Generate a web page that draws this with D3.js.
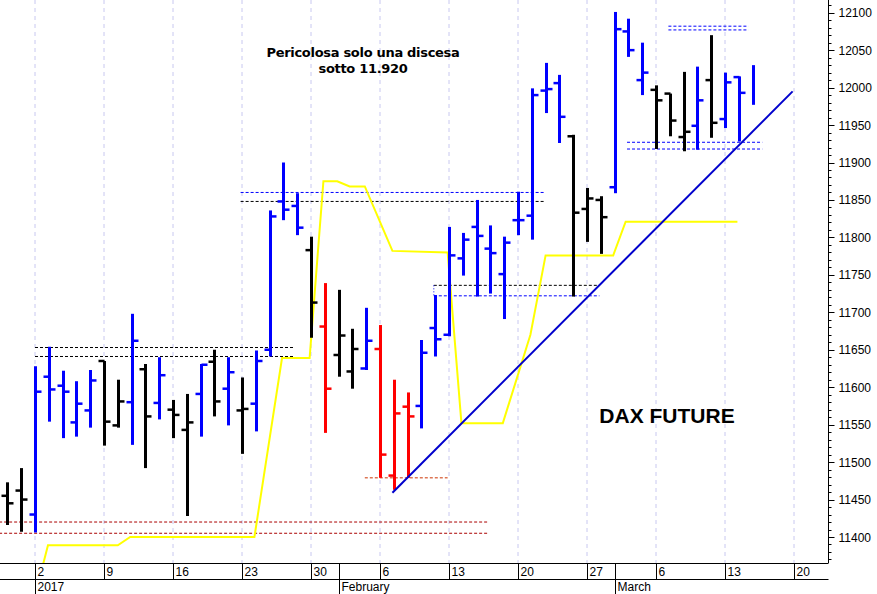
<!DOCTYPE html>
<html><head><meta charset="utf-8">
<script src="https://cdn.jsdelivr.net/npm/d3@7"></script>
<style>body{margin:0;background:#fff}svg{display:block}</style>
</head><body><svg id="c" width="877" height="594"></svg>
<script>
// Trading days (weekdays) starting Dec 28, 2016
const startDate = "2016-12-28", endDate = "2017-03-20";
const holidays = ["2016-12-30"];
// OHLC bars: [open, high, low, close, color]
const bars = [
 [11455,11473,11416,11445,"k"],
 [11462,11492,11407,11450,"k"],
 [11430,11628,11406,11594,"b"],
 [11614,11654,11554,11597,"b"],
 [11602,11622,11532,11594,"b"],
 [11553,11608,11534,11578,"b"],
 [11569,11623,11546,11609,"b"],
 [11635,11635,11522,11554,"k"],
 [11549,11610,11546,11581,"k"],
 [11580,11698,11523,11662,"b"],
 [11624,11631,11492,11561,"k"],
 [11579,11640,11557,11616,"b"],
 [11570,11583,11532,11563,"k"],
 [11543,11591,11428,11553,"k"],
 [11591,11631,11534,11630,"b"],
 [11634,11650,11561,11581,"k"],
 [11598,11640,11549,11620,"b"],
 [11569,11613,11511,11571,"k"],
 [11578,11649,11541,11635,"b"],
 [11650,11836,11641,11828,"b"],
 [11848,11900,11823,11837,"b"],
 [11842,11859,11803,11813,"b"],
 [11783,11801,11666,11713,"k"],
 [11681,11739,11539,11598,"r"],
 [11643,11730,11614,11669,"k"],
 [11621,11678,11598,11651,"k"],
 [11625,11706,11623,11662,"b"],
 [11651,11683,11479,11510,"r"],
 [11482,11610,11463,11565,"r"],
 [11574,11593,11479,11561,"r"],
 [11575,11663,11545,11646,"b"],
 [11679,11723,11641,11664,"b"],
 [11670,11814,11668,11776,"b"],
 [11772,11806,11749,11797,"b"],
 [11814,11850,11721,11802,"b"],
 [11785,11816,11725,11779,"b"],
 [11751,11801,11691,11793,"b"],
 [11823,11861,11803,11823,"b"],
 [11829,11999,11797,11990,"b"],
 [11996,12033,11966,11998,"b"],
 [12006,12017,11926,11961,"b"],
 [11935,11937,11721,11833,"k"],
 [11838,11866,11794,11852,"k"],
 [11850,11855,11778,11827,"k"],
 [11867,12101,11859,12078,"b"],
 [12075,12092,12041,12050,"b"],
 [12010,12060,11990,12020,"b"],
 [11997,12003,11918,11983,"k"],
 [11992,11992,11935,11956,"k"],
 [11934,12021,11915,11941,"k"],
 [11949,12028,11917,11983,"b"],
 [12010,12070,11933,11953,"k"],
 [11958,12020,11946,12007,"b"],
 [12014,12015,11928,11993,"b"],
 [null,12030,11977,null,"b"]
];
// yellow line: [trading-day index (0 = Jan 2), price]
const yellowIdx = [0.4,0.94,6.0,6.9,15.9,17.9,19.9,20.9,21.9,22.8,23.9,25.9,29.9,30.9,33.9,35.9,37.0,41.9,42.8,50.9];
const yellowVal = [11350,11389,11389,11400,11400,11639,11639,11875,11875,11868,11868,11782,11780,11552,11552,11670,11776,11776,11821,11821];
// trend line
const trendIdx = [25.9,54.9], trendVal = [11459,11995];
// dashed levels: [fromIdx, toIdx, price, color]
const levels = [
 [0,18.8,11653,"#000"],[0,18.8,11641,"#000"],
 [-2.6,32.8,11420,"#a00"],[-2.6,32.8,11405,"#a00"],
 [14.9,37,11860,"#00f"],[14.9,37,11848,"#000"],
 [23.9,29.9,11479,"#c30"],
 [28.9,40.9,11736,"#000"],[28.9,40.9,11722,"#00f"],
 [45.9,51.7,12082,"#00f"],[45.9,51.7,12077,"#00f"],
 [42.9,52.7,11927,"#00f"],[42.9,52.7,11918,"#00f"]
];
const priceTicks = d3.range(11400,12101,50);

const svg = d3.select("#c");
const W=828, H=563;
const x = d3.scaleLinear().domain([-35/13.8,(828-35)/13.8]).range([0,W]);
const y = d3.scaleLinear().domain([11400,12100]).range([537,12.7]);
const colors = {b:"#0000ff",k:"#000",r:"#ff0000"};

const fmt = d3.timeFormat("%Y-%m-%d");
const days=[];
for(let d=new Date(startDate+"T12:00:00"); d<=new Date(endDate+"T12:00:00"); d.setDate(d.getDate()+1)){
  if(d.getDay()!==0 && d.getDay()!==6 && !holidays.includes(fmt(d))) days.push(new Date(d));
}
const idx0 = days.findIndex(d=>d.getMonth()===0&&d.getDate()===2);
const di = i => i - idx0;

svg.append("clipPath").attr("id","pc").append("rect").attr("width",W).attr("height",H);
const g = svg.append("g").attr("clip-path","url(#pc)");

days.forEach((d,i)=>{ if(d.getDay()===1){
  g.append("line").attr("x1",x(di(i))).attr("x2",x(di(i))).attr("y1",0).attr("y2",H)
   .attr("stroke","#c8c8f0").attr("stroke-dasharray","4,4");
}});

levels.forEach(l=>{
  g.append("line").attr("x1",x(l[0])).attr("x2",x(l[1])).attr("y1",y(l[2])).attr("y2",y(l[2]))
   .attr("stroke",l[3]).attr("stroke-dasharray","3,2").attr("stroke-width",1);
});
g.append("line").attr("x1",x(28.9)).attr("x2",x(28.9)).attr("y1",y(11736)).attr("y2",y(11722))
 .attr("stroke","#00f").attr("stroke-dasharray","1,2");

g.append("path").datum(d3.zip(yellowIdx,yellowVal))
 .attr("d",d3.line().x(d=>x(d[0])).y(d=>y(d[1]))).attr("fill","none").attr("stroke","#ffff00").attr("stroke-width",2);

bars.forEach((b,i)=>{
  const cx = Math.round(x(di(i)))+0.5, c=colors[b[4]];
  g.append("line").attr("x1",cx).attr("x2",cx).attr("y1",y(b[1])).attr("y2",y(b[2])).attr("stroke",c).attr("stroke-width",3);
  if(b[0]!=null) g.append("line").attr("x1",cx-6).attr("x2",cx).attr("y1",y(b[0])).attr("y2",y(b[0])).attr("stroke",c).attr("stroke-width",2.5);
  if(b[3]!=null) g.append("line").attr("x1",cx).attr("x2",cx+6).attr("y1",y(b[3])).attr("y2",y(b[3])).attr("stroke",c).attr("stroke-width",2.5);
});

g.append("line").attr("x1",x(trendIdx[0])).attr("x2",x(trendIdx[1])).attr("y1",y(trendVal[0])).attr("y2",y(trendVal[1]))
 .attr("stroke","#0000cc").attr("stroke-width",2);

const fam="Arial, Liberation Sans, sans-serif";
const t = svg.append("text").attr("x",363).attr("y",57).attr("text-anchor","middle")
 .attr("font-family","DejaVu Sans, sans-serif").attr("font-size",13).attr("font-weight","bold").attr("letter-spacing",-0.3);
t.append("tspan").attr("x",363).text("Pericolosa solo una discesa");
t.append("tspan").attr("x",363).attr("dy",16).text("sotto 11.920");
svg.append("text").attr("x",667).attr("y",423).attr("text-anchor","middle")
 .attr("font-family",fam).attr("font-size",21).attr("font-weight","bold").text("DAX FUTURE");

svg.append("line").attr("x1",W+0.5).attr("x2",W+0.5).attr("y1",0).attr("y2",H).attr("stroke","#000");
svg.append("line").attr("x1",0).attr("x2",W+0.5).attr("y1",H+0.5).attr("y2",H+0.5).attr("stroke","#000");
svg.append("line").attr("x1",0).attr("x2",W+0.5).attr("y1",579.5).attr("y2",579.5).attr("stroke","#000");

const ax = svg.append("g").attr("transform",`translate(${W+0.5},0)`);
d3.range(11370,12111,10).forEach(v=>{
  const yy=Math.round(y(v))+0.5; if(yy<0||yy>H) return;
  const major = v%50===0;
  ax.append("line").attr("x1",0).attr("x2",major?6:3).attr("y1",yy).attr("y2",yy).attr("stroke","#000");
});
priceTicks.forEach(v=>{
  ax.append("text").attr("x",10).attr("y",y(v)+4.5).attr("font-family",fam).attr("font-size",12).text(v);
});

days.forEach((d,i)=>{
  const xx = Math.round(x(di(i)))+0.5;
  if(d.getDay()===1 || (d.getMonth()===0&&d.getDate()===2)){
    svg.append("line").attr("x1",xx).attr("x2",xx).attr("y1",H).attr("y2",579).attr("stroke","#000");
    svg.append("text").attr("x",xx+2).attr("y",576).attr("font-family",fam).attr("font-size",12).text(d.getDate());
  }
  const prev = days[i-1];
  if(prev && prev.getMonth()!==d.getMonth()){
    svg.append("line").attr("x1",xx).attr("x2",xx).attr("y1",H).attr("y2",594).attr("stroke","#000");
    const lab = d.getMonth()===0 ? "2017" : d3.timeFormat("%B")(d);
    svg.append("text").attr("x",xx+2).attr("y",591).attr("font-family",fam).attr("font-size",12).text(lab);
  }
});
</script></body></html>
